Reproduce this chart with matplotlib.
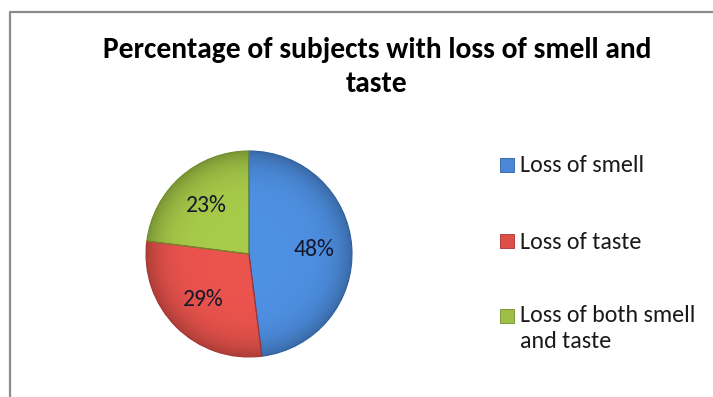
import matplotlib
matplotlib.use("Agg")
import numpy as np
import matplotlib.pyplot as plt
from matplotlib.patches import Rectangle
from matplotlib.colors import to_rgb

plt.rcParams["font.family"] = ["Carlito", "Lato", "DejaVu Sans"]

title = "Percentage of subjects with loss of smell and\ntaste"
labels = ["Loss of smell", "Loss of taste", "Loss of both smell\nand taste"]
values = [48, 29, 23]
colors = ["#4A88D6", "#DE4F49", "#9DBF45"]
edges = ["#2F5F9E", "#A8322E", "#6E8D2A"]

W, H = 713, 397
fig = plt.figure(figsize=(W / 100, H / 100), dpi=100)

# pie axes: centre (249, 254) px, radius 103 px
cx, cy, r = 249, 254, 103
ax = fig.add_axes([(cx - r) / W, (H - cy - r) / H, 2 * r / W, 2 * r / H])
wedges, texts, autotexts = ax.pie(
    values,
    colors=colors,
    startangle=90,
    counterclock=False,
    autopct="%d%%",
    pctdistance=0.63,
    wedgeprops=dict(linewidth=0.8),
    textprops=dict(fontsize=17, color="#15182a"),
)

# soft bevel shading inside each wedge
g = np.linspace(-1, 1, 400)
X, Y = np.meshgrid(g, g)
R = np.hypot(X, Y)
shade = 1.06 - 0.28 * np.clip(R, 0, 1) ** 6
for w, c, ec in zip(wedges, colors, edges):
    img = np.clip(np.array(to_rgb(c))[None, None, :] * shade[..., None], 0, 1)
    im = ax.imshow(img, extent=(-1, 1, -1, 1), origin="lower", zorder=2)
    im.set_clip_path(w)
    w.set_facecolor("none")
    w.set_edgecolor(ec)
    w.set_zorder(3)
    w.set_clip_on(False)
for t in autotexts:
    t.set_zorder(5)
ax.set_xlim(-1, 1)
ax.set_ylim(-1, 1)
ax.set_aspect("equal")
ax.axis("off")

# overlay in pixel coords for frame, title and legend
ov = fig.add_axes([0, 0, 1, 1], zorder=-1)
ov.set_xlim(0, W)
ov.set_ylim(H, 0)
ov.axis("off")
ov.plot([9.5, 9.5, W], [H, 11.5, 11.5], color="#8c8c8c", lw=1.6, solid_capstyle="butt")

top = fig.add_axes([0, 0, 1, 1], zorder=5)
top.set_xlim(0, W)
top.set_ylim(H, 0)
top.axis("off")
top.patch.set_alpha(0)
# va=baseline on multi-line text pins the last line
top.text(377, 91.7, title, ha="center", va="baseline", fontsize=21.3,
         fontweight="bold", linespacing=1.36, color="#000000")

leg_y = [172.3, 248.7, 348]
for lab, c, ec, yb in zip(labels, colors, edges, leg_y):
    first = yb - 25 if "\n" in lab else yb
    top.add_patch(Rectangle((500, first - 14.5), 14, 14, facecolor=c, edgecolor=ec, lw=0.6))
    top.text(520.5, yb, lab, ha="left", va="baseline", fontsize=17.3,
             linespacing=1.30, color="#1a1a1a")

fig.savefig("out.png", dpi=100)
